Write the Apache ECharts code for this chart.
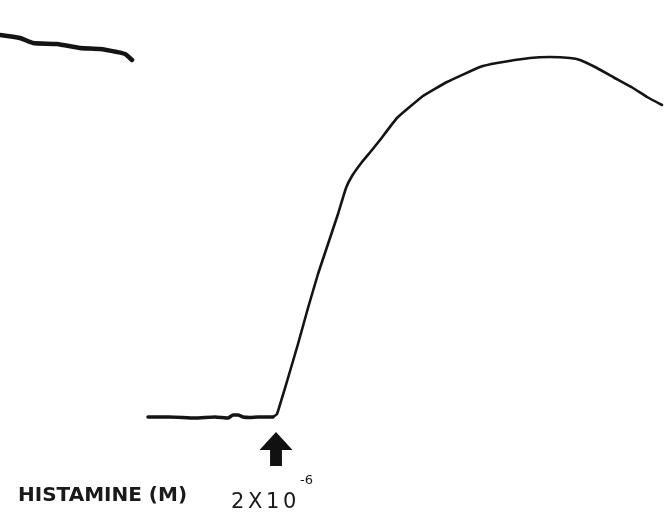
<!DOCTYPE html>
<html>
<head>
<meta charset="utf-8">
<script src="https://cdn.jsdelivr.net/npm/echarts@6/dist/echarts.min.js"></script>
<style>
  html, body { margin: 0; padding: 0; background: #fff; }
  #chart { width: 664px; height: 514px; }
</style>
</head>
<body>
<div id="chart"></div>
<script>
// Chart-time position (recorder paper units) and tension trace height.
var preTime   = [0, 20, 33, 57, 80, 100, 117, 125, 132];
var preTrace  = [479, 476, 471, 470, 466, 465, 462, 460, 454];

var baseTime  = [148, 170, 195, 215, 228, 233, 238, 243, 250, 258, 266, 273];
var baseTrace = [97, 97, 96, 97, 96, 99, 99, 97, 96.5, 97, 97, 97];

var riseTime  = [273, 277, 282, 288, 298, 308, 318, 328, 338, 346, 352, 362, 372, 380, 397, 423, 447, 480, 497, 530, 550, 570, 580, 597, 613, 633, 647, 662];
var riseTrace = [97, 100, 116, 136, 170, 206, 240, 270, 300, 326, 338, 352, 364, 374, 396, 418, 432, 447, 451, 456, 457, 456, 454, 446, 437, 426, 417, 409];

// Time point of histamine addition and the arrow's level on the chart.
var doseTime  = [276];
var doseLevel = [65];
var doseExp   = '-6';
var agentLabel = 'HISTAMINE (M)';

function zip(a, b) { return a.map(function (v, i) { return [v, b[i]]; }); }

var chart = echarts.init(document.getElementById('chart'));
chart.setOption({
  animation: false,
  backgroundColor: '#ffffff',
  grid: { left: 0, right: 0, top: 0, bottom: 0 },
  xAxis: { type: 'value', min: 0, max: 664, show: false },
  yAxis: { type: 'value', min: 0, max: 514, show: false },
  series: [
    {
      type: 'line', data: zip(preTime, preTrace), smooth: 0.2, symbol: 'none',
      lineStyle: { color: '#141414', width: 4.5, cap: 'round' }
    },
    {
      type: 'line', data: zip(baseTime, baseTrace), smooth: 0.15, symbol: 'none',
      lineStyle: { color: '#141414', width: 3.5, cap: 'round' }
    },
    {
      type: 'line', data: zip(riseTime, riseTrace), smooth: 0.1, symbol: 'none',
      lineStyle: { color: '#141414', width: 2.6, cap: 'round', join: 'round' }
    },
    {
      type: 'scatter', data: zip(doseTime, doseLevel),
      symbol: 'path://M50,0 L100,53 L68,53 L68,100 L32,100 L32,53 L0,53 Z',
      symbolSize: [33, 34],
      itemStyle: { color: '#111111', opacity: 1 }
    }
  ],
  graphic: [
    {
      type: 'text', left: 18, top: 486,
      style: {
        text: agentLabel, fill: '#1a1a1a',
        font: 'bold 20px "DejaVu Sans"'
      }
    },
    {
      type: 'text', left: 231, top: 492,
      style: {
        text: '{d|2}{d|X}{d|1}{d|0}', fill: '#1a1a1a',
        rich: { d: { font: '21px "DejaVu Sans"', padding: [0, 1.8, 0, 1.8], fill: '#1a1a1a' } }
      }
    },
    {
      type: 'text', left: 300, top: 474,
      style: { text: doseExp, fill: '#1a1a1a', font: '13px "DejaVu Sans"' }
    }
  ]
});
</script>
</body>
</html>
